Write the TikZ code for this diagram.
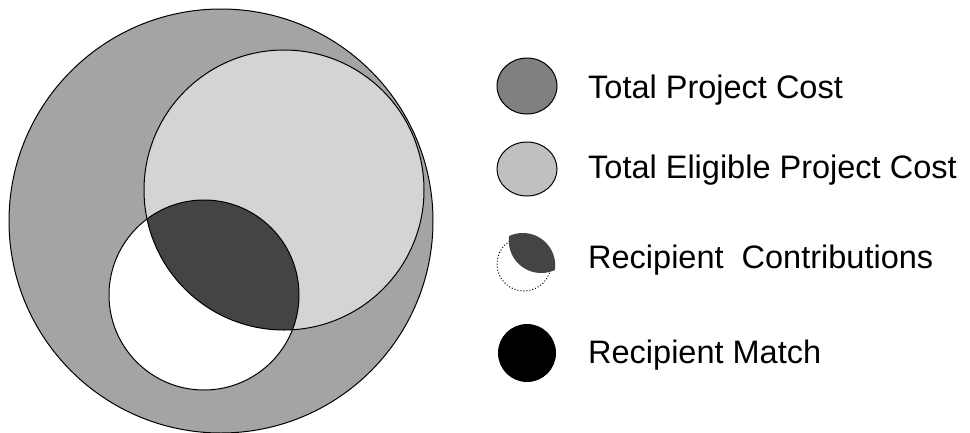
\documentclass[tikz,border=0pt]{standalone}
\usepackage{fontspec}
\setmainfont{Liberation Sans}
\definecolor{bigc}{RGB}{164,164,164}
\definecolor{lightc}{RGB}{212,212,212}
\definecolor{darkc}{RGB}{68,68,68}
\definecolor{legA}{RGB}{128,128,128}
\definecolor{legB}{RGB}{192,192,192}
\tikzset{
  outl/.style={draw=black, line width=1pt},
  legtxt/.style={anchor=base west, inner sep=0pt, font=\fontsize{32.5}{38}\selectfont}
}
\begin{document}
\begin{tikzpicture}[x=1pt,y=-1pt]
\useasboundingbox (0,0) rectangle (970,432);
\fill[white] (0,0) rectangle (970,432);
% main diagram
\fill[bigc] (221,221) circle (212);
\fill[white] (204,295) circle (95);
\fill[lightc] (284,190) circle (140);
\begin{scope}
  \clip (204,295) circle (95);
  \fill[darkc] (284,190) circle (140);
\end{scope}
\draw[outl] (221,221) circle (212);
\draw[outl] (284,190) circle (140);
\draw[outl] (204,295) circle (95);
% legend
\path[fill=legA, draw=black, line width=1pt] (527,86) ellipse (30 and 28);
\path[fill=legB, draw=black, line width=1pt] (527,169) ellipse (30 and 27);
\draw[black, dotted, line width=1pt] (524,264) circle (27);
\begin{scope}
  \clip (522.8,265.4) circle (32.4);
  \fill[darkc] (541.2,240.6) circle (32.4);
\end{scope}
\fill[black] (527,353) circle (29);
\node[legtxt] (t1) at (588,98) {Total Project Cost};
\node[legtxt] (t2) at (588,178) {Total Eligible Project Cost};
\node[legtxt] (t3) at (588,268) {Recipient\ \ Contributions};
\node[legtxt] (t4) at (588,363) {Recipient Match};
\end{tikzpicture}
\end{document}
